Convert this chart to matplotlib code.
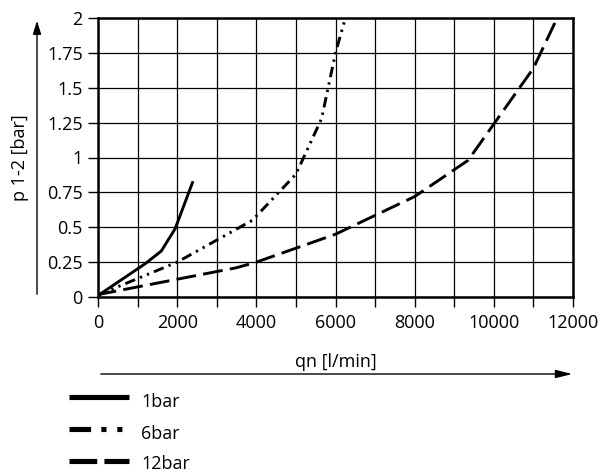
import matplotlib
matplotlib.use("Agg")
import matplotlib.pyplot as plt
from matplotlib.lines import Line2D
from matplotlib.patches import FancyArrowPatch
import numpy as np

plt.rcParams['font.family'] = ['Open Sans', 'DejaVu Sans']

# data
series_names = ["1bar", "6bar", "12bar"]
x_1bar = [0, 50, 1200, 1600, 1950, 2400]
y_1bar = [0, 0.02, 0.24, 0.33, 0.49, 0.83]
x_6bar = [0, 50, 2000, 3900, 5000, 5650, 6000, 6250]
y_6bar = [0, 0.02, 0.25, 0.55, 0.88, 1.28, 1.75, 2.0]
x_12bar = [0, 50, 3500, 4000, 6000, 8000, 9350, 11000, 11600]
y_12bar = [0, 0.02, 0.21, 0.25, 0.45, 0.72, 0.98, 1.64, 2.0]
x_ticklabels = [0, 2000, 4000, 6000, 8000, 10000, 12000]
y_ticklabels = ["0", "0.25", "0.5", "0.75", "1", "1.25", "1.5", "1.75", "2"]

W, H = 608, 475
FS = 13
fig = plt.figure(figsize=(W/100, H/100), dpi=100)
ax = fig.add_axes([98/W, 1-297/H, (573-98)/W, (297-18)/H])

styles = {
    "1bar": dict(linestyle='-'),
    "6bar": dict(linestyle=(0, (3.6, 1.8, 0.8, 1.8, 0.8, 1.8))),
    "12bar": dict(linestyle=(0, (6.8, 2.5))),
}
legend_styles = {
    "1bar": dict(linestyle='-'),
    "6bar": dict(linestyle=(0, (4.2, 2.0, 1.0, 2.1, 1.0, 6))),
    "12bar": dict(linestyle=(0, (5.4, 1.4))),
}
data = {"1bar": (x_1bar, y_1bar), "6bar": (x_6bar, y_6bar), "12bar": (x_12bar, y_12bar)}
for name in series_names:
    xs, ys = data[name]
    ax.plot(xs, ys, color='black', lw=2.1, solid_capstyle='butt', dash_capstyle='butt',
            clip_on=True, zorder=3, **styles[name])

ax.set_xlim(0, 12000)
ax.set_ylim(0, 2)
ax.set_xticks(np.arange(0, 12001, 1000), minor=True)
ax.set_xticks(x_ticklabels)
ax.set_xticklabels([str(v) for v in x_ticklabels])
ax.set_yticks(np.arange(0, 2.01, 0.25))
ax.set_yticklabels(y_ticklabels)
ax.grid(True, which='both', color='black', lw=0.9)
ax.tick_params(which='both', direction='out', length=7, width=1.0, color='black',
               labelsize=FS)
ax.tick_params(axis='x', which='both', pad=5)
ax.tick_params(axis='y', which='both', pad=4)
for s in ax.spines.values():
    s.set_linewidth(1.8)
    s.set_color('black')

# axis arrows and labels
fig.add_artist(FancyArrowPatch(
    (37/W, 1-297/H), (37/W, 1-18/H), transform=fig.transFigure,
    arrowstyle='-|>,head_length=8,head_width=2.5', mutation_scale=1, lw=1.0, color='black'))
fig.text(20/W, 1-158/H, "p 1-2 [bar]", rotation=90, ha='center', va='center', fontsize=FS)
fig.add_artist(FancyArrowPatch(
    (98/W, 1-374/H), (575/W, 1-374/H), transform=fig.transFigure,
    arrowstyle='-|>,head_length=10,head_width=2.5', mutation_scale=1, lw=1.0, color='black'))
fig.text(336/W, 1-362/H, "qn [l/min]", ha='center', va='center', fontsize=FS)

# legend
leg_y = [397, 429, 461]
leg_base = [407, 439, 469]
leg_end = {"1bar": 129, "6bar": 123, "12bar": 129}
for name, yy, yb in zip(series_names, leg_y, leg_base):
    fig.add_artist(Line2D([69/W, leg_end[name]/W], [1-yy/H, 1-yy/H], transform=fig.transFigure,
                          color='black', lw=3.7, solid_capstyle='butt', dash_capstyle='butt',
                          **legend_styles[name]))
    fig.text(141/W, 1-yb/H, name, ha='left', va='baseline', fontsize=FS)

fig.savefig("out.png", dpi=100)
